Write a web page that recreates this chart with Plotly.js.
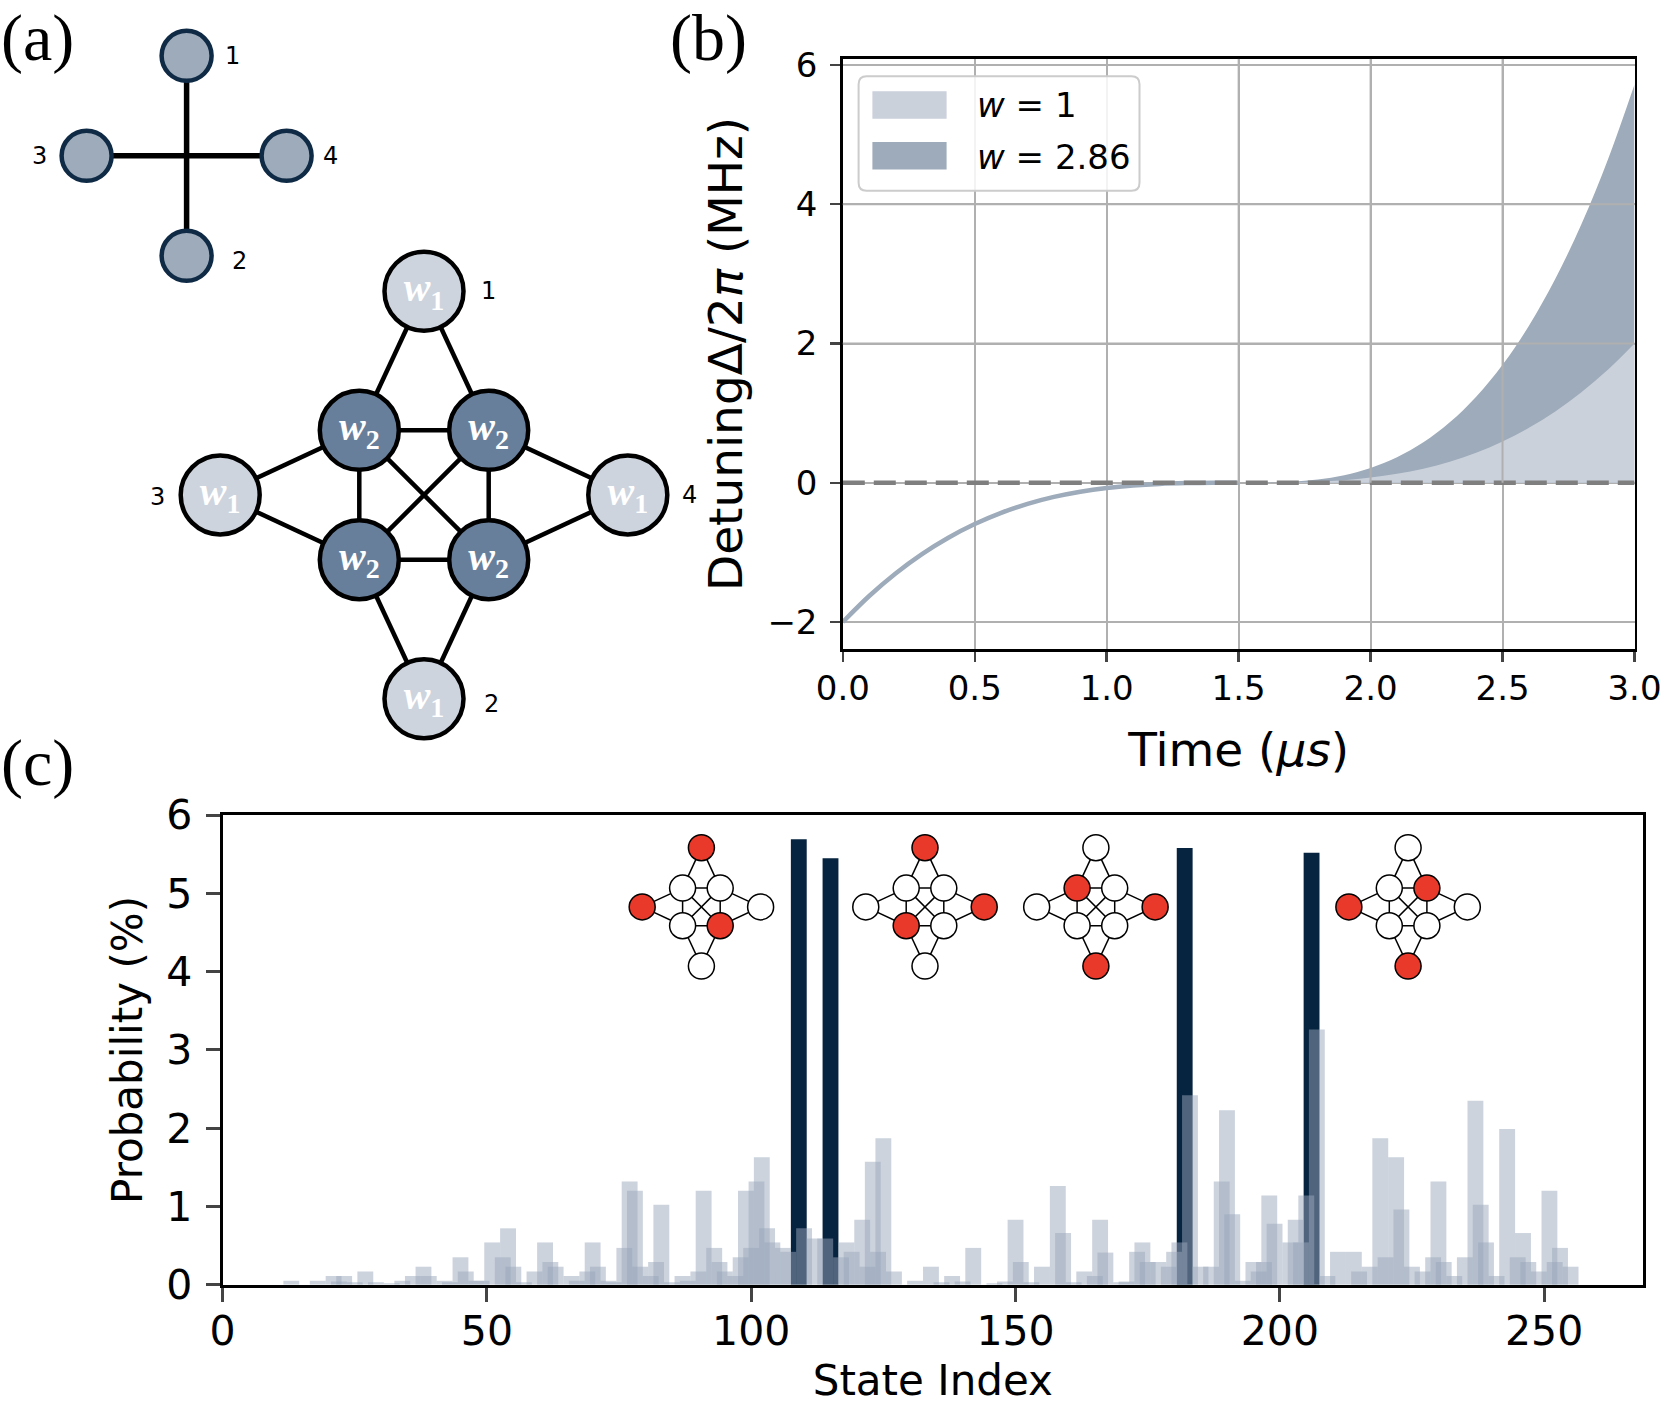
<!DOCTYPE html>
<html><head><meta charset="utf-8">
<script src="https://cdn.plot.ly/plotly-3.0.1.min.js"></script>
<style>html,body{margin:0;padding:0;background:#fff}</style>
</head><body><div id="chart" style="width:1662px;height:1405px"></div>
<script>
// ================= DATA =================
// Panel (b): detuning schedule
const rampTime = [0.0,0.1,0.2,0.3,0.4,0.5,0.6,0.7,0.8,0.9,1.0,1.1,1.2,1.3,1.4,1.5];
const rampDetuning = [-2.00,-1.626,-1.302,-1.024,-0.789,-0.593,-0.432,-0.303,-0.203,-0.128,-0.074,-0.038,-0.016,-0.005,-0.001,0.0];
const quenchTime = [1.5,1.6,1.7,1.8,1.9,2.0,2.1,2.2,2.3,2.4,2.5,2.6,2.7,2.8,2.9,3.0];
const detuningW1 = [0.0,0.001,0.005,0.016,0.038,0.074,0.128,0.203,0.303,0.432,0.593,0.789,1.024,1.302,1.626,2.00];
const detuningW286 = [0.0,0.002,0.014,0.046,0.109,0.212,0.366,0.581,0.868,1.236,1.695,2.256,2.929,3.724,4.650,5.72];
const legendNames = ['<i>w</i> = 1', '<i>w</i> = 2.86'];
const timeTicks = [0.0,0.5,1.0,1.5,2.0,2.5,3.0];
const detuningTicks = [-2,0,2,4,6];

// Panel (c): measured state probabilities (%)
const stateIndex = [13,18,21,22,23,25,27,29,32,34,36,38,39,42,43,45,46,48,49,51,53,54,55,57,59,61,62,63,66,67,69,70,71,73,74,76,77,78,79,81,82,83,85,87,88,90,91,93,94,95,97,98,99,100,101,102,103,104,106,107,110,112,114,117,118,119,121,122,123,124,125,127,131,134,136,138,140,142,146,148,150,151,153,155,158,159,161,163,165,166,167,170,171,173,174,175,177,179,180,181,183,185,187,189,190,191,193,195,196,197,198,199,202,203,204,205,207,209,211,214,215,217,219,220,222,223,225,227,229,230,231,233,235,237,238,239,241,243,245,246,247,249,251,252,253,255];
const stateProb = [0.05,0.05,0.11,0.04,0.11,0.03,0.17,0.03,0.02,0.05,0.11,0.23,0.11,0.05,0.03,0.35,0.17,0.05,0.05,0.54,0.35,0.72,0.23,0.03,0.17,0.54,0.29,0.23,0.11,0.05,0.17,0.54,0.23,0.05,0.03,0.47,1.32,1.20,0.23,0.11,0.29,1.02,0.03,0.11,0.05,0.17,1.20,0.47,0.29,0.17,0.11,0.35,1.20,0.47,1.32,1.63,0.72,0.54,0.47,0.42,0.72,0.59,0.59,0.35,0.54,0.42,0.83,0.23,1.57,0.42,1.87,0.17,0.05,0.23,0.03,0.11,0.04,0.47,0.02,0.04,0.83,0.29,0.03,0.23,1.26,0.66,0.03,0.17,0.11,0.83,0.41,0.03,0.04,0.42,0.54,0.29,0.29,0.23,0.42,0.54,2.42,0.23,0.23,1.32,2.23,0.90,0.05,0.29,0.17,0.29,1.14,0.78,0.54,0.83,0.54,1.14,3.26,0.11,0.42,0.42,0.17,0.23,1.87,0.35,1.63,0.96,0.23,0.17,0.35,1.32,0.29,0.11,0.35,2.35,1.02,0.54,0.11,1.99,0.35,0.66,0.29,0.17,1.20,0.29,0.47,0.23];
const misIndex = [109,115,182,206];
const misProb = [5.69,5.45,5.58,5.52];
const stateTicks = [0,50,100,150,200,250];
const probTicks = [0,1,2,3,4,5,6];

// Panel (a): star graph (node order: 1 top, 2 bottom, 3 left, 4 right)
const starX = [0,0,-1,1];
const starY = [1,-1,0,0];
const starLabels = ['1','2','3','4'];
const starEdges = [[0,1],[2,3]];

// Weighted unit-disk graph (0 top,1 bottom,2 left,3 right,4 TL,5 TR,6 BL,7 BR)
const udgX = [0,0,-3.15,3.15,-1,1,-1,1];
const udgY = [3.15,-3.15,0,0,1,1,-1,-1];
const udgWeight = [1,1,1,1,2,2,2,2];
const udgLabels = ['1','2','3','4','','','',''];
const udgEdges = [[0,4],[0,5],[2,4],[2,6],[3,5],[3,7],[1,6],[1,7],[4,5],[6,7],[4,6],[5,7],[4,7],[5,6]];
// selected (red) nodes in the four inset solutions
const insetSolutions = [[0,2,7],[0,3,6],[1,3,4],[1,2,5]];

// ================= STYLE / LAYOUT =================
const W = 1662, H = 1405;
const FONT = 'DejaVu Sans';
const SLATE = '#9eabba', NAVY = '#06233f';
function box(cx, cy, half, unit) {
  return {xd:[(cx-half)/W,(cx+half)/W], yd:[1-(cy+half)/H,1-(cy-half)/H], r:[-half/unit, half/unit]};
}
function edgeXY(nx, ny, edges) {
  const x=[], y=[];
  edges.forEach(([a,b]) => { x.push(nx[a], nx[b], null); y.push(ny[a], ny[b], null); });
  return {x, y};
}
const layout = {
  width: W, height: H, margin:{l:0,r:0,t:0,b:0},
  paper_bgcolor:'#fff', plot_bgcolor:'rgba(0,0,0,0)',
  showlegend:false, barmode:'overlay', font:{family:FONT, color:'#000'},
  annotations:[], shapes:[]
};
function hiddenAxes(n, b) {
  layout['xaxis'+n] = {domain:b.xd, range:b.r, visible:false, fixedrange:true, anchor:'y'+n};
  layout['yaxis'+n] = {domain:b.yd, range:b.r, visible:false, fixedrange:true, anchor:'x'+n};
}
// panel (b) axes
const bX0 = 842.8, bX1 = 1634.5, bY0 = 58.7, bY1 = 649.2;
layout.xaxis = {domain:[bX0/W, bX1/W], range:[0,3], anchor:'y', tickvals:timeTicks, tickformat:'.1f',
  showline:true, mirror:true, linecolor:'#000', linewidth:2.5, ticks:'outside', ticklen:10, tickwidth:2.5,
  tickfont:{size:34, family:FONT}, showgrid:true, gridcolor:'#b0b0b0', gridwidth:2, zeroline:false,
  ticklabelstandoff:-3,
  title:{text:'Time (<i>μs</i>)', font:{size:47, family:FONT}, standoff:27}};
layout.yaxis = {domain:[1-bY1/H, 1-bY0/H], range:[-2.39,6.09], anchor:'x', tickvals:detuningTicks,
  showline:true, mirror:true, linecolor:'#000', linewidth:2.5, ticks:'outside', ticklen:10, tickwidth:2.5,
  tickfont:{size:34, family:FONT}, showgrid:true, gridcolor:'#b0b0b0', gridwidth:2, zeroline:false,
  ticklabelstandoff:6,
  title:{text:'DetuningΔ/2<i>π</i> (MHz)', font:{size:47, family:FONT}, standoff:10}};
// panel (c) axes
const cX0 = 222.6, cX1 = 1643, cY0 = 815.1, cY1 = 1284.7;
layout.xaxis2 = {domain:[cX0/W, cX1/W], range:[0,268.7], anchor:'y2', tickvals:stateTicks,
  showline:true, mirror:true, linecolor:'#000', linewidth:3, ticks:'outside', ticklen:14, tickwidth:3,
  tickfont:{size:41, family:FONT}, showgrid:false, zeroline:false, ticklabelstandoff:-6,
  title:{text:'State Index', font:{size:42, family:FONT}, standoff:43}};
layout.yaxis2 = {domain:[1-cY1/H, 1-cY0/H], range:[0,6], anchor:'x2', tickvals:probTicks,
  showline:true, mirror:true, linecolor:'#000', linewidth:3, ticks:'outside', ticklen:14, tickwidth:3,
  tickfont:{size:41, family:FONT}, showgrid:false, zeroline:false, ticklabelstandoff:5,
  title:{text:'Probability (%)', font:{size:42, family:FONT}, standoff:11}};
// graph axes
hiddenAxes(3, box(186.6, 155.8, 150, 100));
hiddenAxes(4, box(424, 495, 270, 64.7));
const insetCenters = [[701.4,906.9],[925.0,906.9],[1095.9,906.9],[1408.1,906.9]];
insetCenters.forEach((c,i) => hiddenAxes(5+i, box(c[0], c[1], 80, 18.8)));

// ================= TRACES =================
const traces = [];
traces.push({type:'scatter', x:quenchTime, y:detuningW286, mode:'lines', fill:'tozeroy', fillcolor:SLATE,
  line:{width:0, shape:'spline'}, xaxis:'x', yaxis:'y', hoverinfo:'skip', name:legendNames[1]});
traces.push({type:'scatter', x:quenchTime, y:detuningW1, mode:'lines', fill:'tozeroy', fillcolor:'#cad1db',
  line:{width:0, shape:'spline'}, xaxis:'x', yaxis:'y', hoverinfo:'skip', name:legendNames[0]});
traces.push({type:'scatter', x:rampTime, y:rampDetuning, mode:'lines', line:{color:SLATE, width:4.5, shape:'spline'},
  xaxis:'x', yaxis:'y', hoverinfo:'skip'});
traces.push({type:'scatter', x:[rampTime[0], quenchTime[quenchTime.length-1]], y:[0,0], mode:'lines',
  line:{color:'#7f7f7f', width:4.5, dash:'22px,9px'}, xaxis:'x', yaxis:'y', hoverinfo:'skip'});
// panel (c)
traces.push({type:'bar', x:misIndex, y:misProb, width:3, marker:{color:NAVY, line:{width:0}}, xaxis:'x2', yaxis:'y2', hoverinfo:'skip'});
traces.push({type:'bar', x:stateIndex, y:stateProb, width:3, marker:{color:'rgba(154,168,187,0.5)', line:{width:0}}, xaxis:'x2', yaxis:'y2', hoverinfo:'skip'});
// star graph
const se = edgeXY(starX, starY, starEdges);
traces.push({type:'scatter', x:se.x, y:se.y, mode:'lines', line:{color:'#000', width:5.5}, xaxis:'x3', yaxis:'y3', hoverinfo:'skip', cliponaxis:false});
traces.push({type:'scatter', x:starX, y:starY, mode:'markers', marker:{size:50, color:SLATE, line:{color:'#0e2a45', width:4.5}},
  xaxis:'x3', yaxis:'y3', hoverinfo:'skip', cliponaxis:false});
// weighted graph
const ue = edgeXY(udgX, udgY, udgEdges);
traces.push({type:'scatter', x:ue.x, y:ue.y, mode:'lines', line:{color:'#000', width:4.5}, xaxis:'x4', yaxis:'y4', hoverinfo:'skip', cliponaxis:false});
traces.push({type:'scatter', x:udgX, y:udgY, mode:'markers+text',
  text: udgWeight.map(w => '<b><i>w</i><sub>'+w+'</sub></b>'), textposition:'middle center',
  textfont:{family:'Liberation Serif', size:40, color:'#fff'},
  marker:{size:79, color:udgWeight.map(w => w===1 ? '#cdd4de' : '#687f9b'), line:{color:'#000', width:4.5}},
  xaxis:'x4', yaxis:'y4', hoverinfo:'skip', cliponaxis:false});
// insets
insetSolutions.forEach((sol, i) => {
  const ax = 'x'+(5+i), ay = 'y'+(5+i);
  traces.push({type:'scatter', x:ue.x, y:ue.y, mode:'lines', line:{color:'#000', width:1.5}, xaxis:ax, yaxis:ay, hoverinfo:'skip', cliponaxis:false});
  traces.push({type:'scatter', x:udgX, y:udgY, mode:'markers',
    marker:{size:26, color:udgX.map((_,k) => sol.includes(k) ? '#e8392a' : '#ffffff'), line:{color:'#000', width:1.5}},
    xaxis:ax, yaxis:ay, hoverinfo:'skip', cliponaxis:false});
});

// ================= ANNOTATIONS / SHAPES =================
const serif = {family:'Liberation Serif', size:66, color:'#000'};
[['(a)',0,0],['(b)',669,0],['(c)',0,725]].forEach(([t,x,y]) => layout.annotations.push(
  {text:t, xref:'paper', yref:'paper', x:x/W, y:1-y/H, xanchor:'left', yanchor:'top', showarrow:false, font:serif, borderpad:0}));
const starOff = [[46,0],[53,-5],[-47,0],[44,0]];
starLabels.forEach((l,k) => layout.annotations.push({text:l, xref:'x3', yref:'y3', x:starX[k], y:starY[k],
  xshift:starOff[k][0], yshift:starOff[k][1], showarrow:false, font:{size:24, family:FONT}}));
const udgOff = [[64,0],[67,-5],[-63,-2],[62,0]];
udgLabels.forEach((l,k) => { if (l) layout.annotations.push({text:l, xref:'x4', yref:'y4', x:udgX[k], y:udgY[k],
  xshift:udgOff[k][0], yshift:udgOff[k][1], showarrow:false, font:{size:24, family:FONT}}); });

// grid lines over the filled region (panel b)
[1.5,2.0,2.5].forEach(v => layout.shapes.push({type:'line', xref:'x', yref:'y', x0:v, x1:v, y0:0, y1:6.09, layer:'above', line:{color:'#b0b0b0', width:2}}));
[2,4].forEach(v => layout.shapes.push({type:'line', xref:'x domain', yref:'y', x0:0, x1:1, y0:v, y1:v, layer:'above', line:{color:'#b0b0b0', width:2}}));
// legend (panel b)
const bw = bX1-bX0, bh = bY1-bY0;
const dx = px => (px-bX0)/bw, dy = py => (bY1-py)/bh;
(function(){
  const x0=dx(858.6), x1=dx(1139.5), y0=dy(190.8), y1=dy(76.3), rx=8/bw, ry=8/bh;
  const p = `M${x0+rx},${y0} L${x1-rx},${y0} Q${x1},${y0} ${x1},${y0+ry} L${x1},${y1-ry} Q${x1},${y1} ${x1-rx},${y1} L${x0+rx},${y1} Q${x0},${y1} ${x0},${y1-ry} L${x0},${y0+ry} Q${x0},${y0} ${x0+rx},${y0} Z`;
  layout.shapes.push({type:'path', xref:'x domain', yref:'y domain', path:p, fillcolor:'rgba(255,255,255,0.85)', line:{color:'#cccccc', width:2}, layer:'above'});
})();
const legendFill = ['#cad1db', SLATE];
const legendRowY = [[91.2,118.7,105],[142,169.6,157]];
legendNames.forEach((n,k) => {
  const r = legendRowY[k];
  layout.shapes.push({type:'rect', xref:'x domain', yref:'y domain', x0:dx(872.4), x1:dx(946.6), y0:dy(r[1]), y1:dy(r[0]), fillcolor:legendFill[k], line:{width:0}, layer:'above'});
  layout.annotations.push({text:n, xref:'x domain', yref:'y domain', x:dx(975), y:dy(r[2]), xanchor:'left', yanchor:'middle', showarrow:false, font:{size:34, family:FONT}});
});

Plotly.newPlot('chart', traces, layout, {staticPlot:true, displayModeBar:false});
</script></body></html>
